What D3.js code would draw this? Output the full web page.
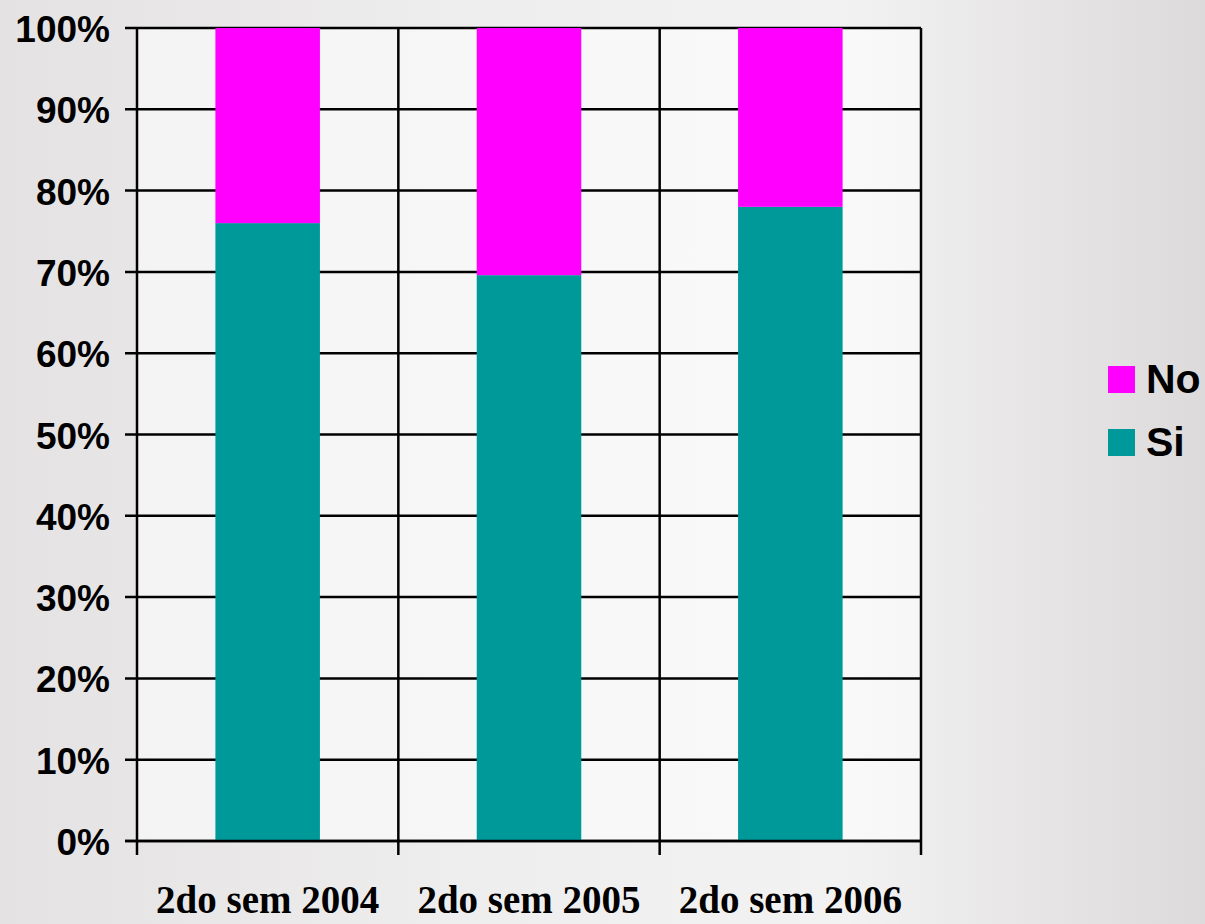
<!DOCTYPE html>
<html>
<head>
<meta charset="utf-8">
<script src="https://cdn.jsdelivr.net/npm/d3@7"></script>
<style>
  html, body { margin: 0; padding: 0; }
  body { width: 1205px; height: 924px; overflow: hidden;
         background: linear-gradient(90deg, #e4e2e3 0%, #efeeee 40%, #f3f2f2 70%, #dcdadb 100%); }
</style>
</head>
<body>
<div class="visHolder"></div>
<script>
// chart data
var categories = ['2do sem 2004', '2do sem 2005', '2do sem 2006'];
var siValues = [76, 69.6, 78];
var noValues = [24, 30.4, 22];
var yTicks = [0, 10, 20, 30, 40, 50, 60, 70, 80, 90, 100];
var seriesNames = ['No', 'Si'];
var seriesColors = { Si: '#009999', No: '#ff00ff' };

// dimensions
var width = 1205,
height = 924,
plotLeft = 137,
plotRight = 921,
plotTop = 28,
plotBottom = 841;

var svg = d3.select('.visHolder').
append('svg').
attr('width', width).
attr('height', height);

var xScale = d3.scaleBand().
domain(categories).
range([plotLeft, plotRight]).
paddingInner(0.6).
paddingOuter(0.3);

// boundaries between categories for the vertical grid
var xBounds = d3.scaleLinear().domain([0, categories.length]).range([plotLeft, plotRight]);

var yScale = d3.scaleLinear().
domain([0, 100]).
range([plotBottom, plotTop]);

// plot background
svg.append('rect').
attr('x', plotLeft).
attr('y', plotTop).
attr('width', plotRight - plotLeft).
attr('height', plotBottom - plotTop).
style('fill', 'rgba(255,255,255,0.55)');

// horizontal grid lines
svg.append('g').selectAll('line').
data(yTicks).
enter().
append('line').
attr('x1', plotLeft - 12).
attr('x2', plotRight).
attr('y1', function (d) { return yScale(d); }).
attr('y2', function (d) { return yScale(d); }).
style('stroke', '#000').
style('stroke-width', 2.5);

// vertical grid lines
svg.append('g').selectAll('line').
data(d3.range(categories.length + 1)).
enter().
append('line').
attr('x1', function (d) { return xBounds(d); }).
attr('x2', function (d) { return xBounds(d); }).
attr('y1', plotTop).
attr('y2', plotBottom + 14).
style('stroke', '#000').
style('stroke-width', 2.5);

// stacked bars
var stackData = categories.map(function (c, i) {
  return { cat: c, Si: siValues[i], No: noValues[i] };
});
var stacked = d3.stack().keys(['Si', 'No'])(stackData);

svg.append('g').selectAll('g').
data(stacked).
enter().
append('g').
style('fill', function (d) { return seriesColors[d.key]; }).
selectAll('rect').
data(function (d) { return d; }).
enter().
append('rect').
attr('x', function (d) { return xScale(d.data.cat); }).
attr('width', xScale.bandwidth()).
attr('y', function (d) { return yScale(d[1]); }).
attr('height', function (d) { return yScale(d[0]) - yScale(d[1]); });

// baseline over the bars
svg.append('line').
attr('x1', plotLeft - 12).
attr('x2', plotRight).
attr('y1', plotBottom).
attr('y2', plotBottom).
style('stroke', '#000').
style('stroke-width', 2.5);

// y tick labels
svg.append('g').selectAll('text').
data(yTicks).
enter().
append('text').
attr('x', 110).
attr('y', function (d) { return yScale(d) + 14; }).
attr('text-anchor', 'end').
style('font-family', 'Liberation Sans, Arial, sans-serif').
style('font-weight', 'bold').
style('font-size', '37px').
text(function (d) { return d + '%'; });

// x category labels
svg.append('g').selectAll('text').
data(categories).
enter().
append('text').
attr('x', function (d) { return xScale(d) + xScale.bandwidth() / 2; }).
attr('y', 913).
attr('text-anchor', 'middle').
style('font-family', 'Liberation Serif, Times New Roman, serif').
style('font-weight', 'bold').
style('font-size', '39px').
text(function (d) { return d; });

// legend
var legend = svg.append('g').selectAll('g').
data(seriesNames).
enter().
append('g').
attr('transform', function (d, i) { return 'translate(1108,' + (366 + i * 63) + ')'; });

legend.append('rect').
attr('width', 27).
attr('height', 27).
style('fill', function (d) { return seriesColors[d]; });

legend.append('text').
attr('x', 38).
attr('y', 27).
style('font-family', 'Liberation Sans, Arial, sans-serif').
style('font-weight', 'bold').
style('font-size', '41px').
text(function (d) { return d; });
</script>
</body>
</html>
